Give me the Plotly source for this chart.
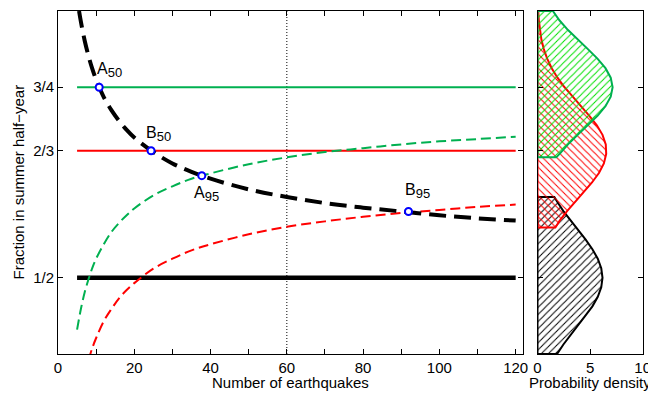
import plotly.graph_objects as go

# ---------------- data ----------------
# black thick dashed threshold curve
n_black = [5.52, 6, 7, 8, 9, 10, 12, 14, 16, 18, 20, 25, 30, 35, 40, 50, 60, 70, 80, 90, 100, 110, 120]
frac_black = [0.850, 0.836, 0.811, 0.791, 0.774, 0.760, 0.737, 0.720, 0.706, 0.694, 0.684, 0.665,
              0.650, 0.639, 0.630, 0.616, 0.606, 0.598, 0.592, 0.587, 0.582, 0.578, 0.575]
# green dashed curve
n_green = [5, 6, 7, 8, 9, 10, 12, 14, 16, 18, 20, 25, 30, 35, 40, 50, 60, 70, 80, 90, 100, 110, 120]
frac_green = [0.432, 0.459, 0.481, 0.498, 0.513, 0.525, 0.544, 0.560, 0.572, 0.582, 0.591, 0.608,
              0.620, 0.630, 0.637, 0.649, 0.658, 0.665, 0.670, 0.675, 0.679, 0.682, 0.685]
# red dashed curve
n_red = [8, 9, 10, 12, 14, 16, 18, 20, 25, 30, 35, 40, 50, 60, 70, 80, 90, 100, 110, 120]
frac_red = [0.392, 0.408, 0.421, 0.443, 0.459, 0.473, 0.484, 0.493, 0.512, 0.525, 0.536, 0.544,
            0.557, 0.567, 0.574, 0.580, 0.585, 0.589, 0.593, 0.596]
# horizontal reference levels
level_x = [5, 120]
level_green = 0.75
level_red = 2 / 3
level_black = 0.5
# vertical dotted line
n_dotted = 60
# labelled points
pt_names = ["A", "B", "A", "B"]
pt_subs = ["50", "50", "95", "95"]
pt_n = [10.8, 24.4, 37.7, 91.9]
pt_frac = [0.75, 0.6667, 0.634, 0.587]

# probability densities (right panel)
dens_black_y = [0.4, 0.4125, 0.425, 0.4375, 0.45, 0.4625, 0.475, 0.4875, 0.5, 0.5125, 0.525, 0.5375,
                0.55, 0.5625, 0.575, 0.5875, 0.6, 0.606]
dens_black = [1.86, 2.46, 3.14, 3.86, 4.58, 5.22, 5.73, 6.06, 6.18, 6.06, 5.73, 5.22, 4.58, 3.86,
              3.14, 2.46, 1.86, 1.60]
dens_red_y = [0.566, 0.575, 0.5875, 0.6, 0.6125, 0.625, 0.6375, 0.65, 0.6625, 0.675, 0.6875, 0.7,
              0.7125, 0.725, 0.7375, 0.75, 0.7625, 0.775, 0.7875, 0.8, 0.8125, 0.825, 0.8375, 0.85]
dens_red = [1.70, 2.11, 2.81, 3.60, 4.41, 5.18, 5.84, 6.31, 6.53, 6.49, 6.18, 5.64, 4.93, 4.14, 3.33,
            2.57, 1.90, 1.35, 0.92, 0.60, 0.37, 0.22, 0.13, 0.07]
dens_green_y = [0.658, 0.6625, 0.675, 0.6875, 0.7, 0.7125, 0.725, 0.7375, 0.75, 0.7625, 0.775,
                0.7875, 0.8, 0.8125, 0.825, 0.8375, 0.85]
dens_green = [1.78, 2.10, 2.90, 3.82, 4.79, 5.70, 6.46, 6.96, 7.14, 6.96, 6.46, 5.70, 4.79, 3.82,
              2.90, 2.10, 1.46]

# tick labels
x_ticks = list(range(0, 121, 10))
x_ticktext = [str(v) if v % 20 == 0 else "" for v in x_ticks]
y_ticks = [0.5, 2 / 3, 0.75]
y_ticktext = ["1/2", "2/3", "3/4"]
dens_ticks = [0, 5, 10]

GREEN = "#00b050"
RED = "#ff0000"
BLUE = "#0000ff"
FONT = "Liberation Sans, Arial, Helvetica, sans-serif"

fig = go.Figure()

# ---------------- left panel ----------------
fig.add_trace(go.Scatter(x=[n_dotted, n_dotted], y=[0.4, 0.85], mode="lines",
                         line=dict(color="black", width=1, dash="1px,2px"), xaxis="x", yaxis="y"))
fig.add_trace(go.Scatter(x=level_x, y=[level_green] * 2, mode="lines",
                         line=dict(color=GREEN, width=2), xaxis="x", yaxis="y"))
fig.add_trace(go.Scatter(x=level_x, y=[level_red] * 2, mode="lines",
                         line=dict(color=RED, width=2), xaxis="x", yaxis="y"))
fig.add_trace(go.Scatter(x=level_x, y=[level_black] * 2, mode="lines",
                         line=dict(color="black", width=4.5), xaxis="x", yaxis="y"))
fig.add_trace(go.Scatter(x=n_green, y=frac_green, mode="lines", line_shape="spline",
                         line=dict(color=GREEN, width=2, dash="10px,5px"), xaxis="x", yaxis="y"))
fig.add_trace(go.Scatter(x=n_red, y=frac_red, mode="lines", line_shape="spline",
                         line=dict(color=RED, width=2, dash="10px,5px"), xaxis="x", yaxis="y"))
fig.add_trace(go.Scatter(x=n_black, y=frac_black, mode="lines", line_shape="spline",
                         line=dict(color="black", width=4, dash="17px,8px"), xaxis="x", yaxis="y"))
fig.add_trace(go.Scatter(x=pt_n, y=pt_frac, mode="markers",
                         marker=dict(symbol="circle", size=7, color="white",
                                     line=dict(color=BLUE, width=2)),
                         xaxis="x", yaxis="y"))

# point labels
label_pos = [  # (xanchor, yanchor, xshift, yshift)
    ("left", "bottom", -4, 5),
    ("left", "bottom", -7, 5),
    ("left", "top", -10, -6),
    ("left", "bottom", -6, 8),
]
for name, sub, xn, yf, (xa, ya, xs, ys) in zip(pt_names, pt_subs, pt_n, pt_frac, label_pos):
    fig.add_annotation(x=xn, y=yf, xref="x", yref="y",
                       text=f"{name}<sub><span style='font-size:13px'>{sub}</span></sub>",
                       showarrow=False,
                       xanchor=xa, yanchor=ya, xshift=xs, yshift=ys,
                       font=dict(family=FONT, size=16, color="black"))

# ---------------- right panel ----------------
def region(dens, ys):
    return [0] + dens + [0, 0], [ys[0]] + ys + [ys[-1], ys[0]]

bx, by = region(dens_black, dens_black_y)
rx, ry = region(dens_red, dens_red_y)
gx, gy = region(dens_green, dens_green_y)

fig.add_trace(go.Scatter(x=bx, y=by, mode="lines", fill="toself",
                         fillcolor="rgba(0,0,0,0)",
                         fillpattern=dict(shape="/", fgcolor="black", bgcolor="rgba(0,0,0,0)",
                                          size=5, solidity=0.2, fgopacity=1),
                         line=dict(color="black", width=2), xaxis="x2", yaxis="y2"))
fig.add_trace(go.Scatter(x=rx, y=ry, mode="lines", fill="toself",
                         fillcolor="rgba(0,0,0,0)",
                         fillpattern=dict(shape="\\", fgcolor=RED, bgcolor="rgba(0,0,0,0)",
                                          size=5, solidity=0.2, fgopacity=1),
                         line=dict(color=RED, width=2), xaxis="x2", yaxis="y2"))
fig.add_trace(go.Scatter(x=gx, y=gy, mode="lines", fill="toself",
                         fillcolor="rgba(0,0,0,0)",
                         fillpattern=dict(shape="/", fgcolor="#00e000", bgcolor="rgba(0,0,0,0)",
                                          size=5, solidity=0.2, fgopacity=1),
                         line=dict(color=GREEN, width=2), xaxis="x2", yaxis="y2"))

W, H = 648, 393
axis_common = dict(showgrid=False, zeroline=False, showline=True, linecolor="black", linewidth=1,
                   mirror="ticks", ticks="inside", ticklen=5, tickcolor="black", tickwidth=1,
                   automargin=False,
                   tickfont=dict(family=FONT, size=15, color="black"))

fig.update_layout(
    width=W, height=H, margin=dict(l=0, r=0, t=0, b=0),
    paper_bgcolor="white", plot_bgcolor="white", showlegend=False,
    font=dict(family=FONT, size=15, color="black"),
    xaxis=dict(domain=[58 / W, 523.3 / W], range=[0, 122], tickmode="array",
               tickvals=x_ticks, ticktext=x_ticktext, anchor="y", **axis_common),
    yaxis=dict(domain=[(H - 354) / H, (H - 11) / H], range=[0.4, 0.85], tickmode="array",
               tickvals=y_ticks, ticktext=y_ticktext, anchor="x", **axis_common),
    xaxis2=dict(domain=[537.5 / W, 642.7 / W], range=[0, 10], tickmode="array",
                tickvals=dens_ticks, anchor="y2", ticklabeloverflow="allow", **axis_common),
    yaxis2=dict(domain=[(H - 354) / H, (H - 11) / H], range=[0.4, 0.85], tickmode="array",
                tickvals=y_ticks, showticklabels=False, anchor="x2", **axis_common),
)

# axis titles
fig.add_annotation(text="Number of earthquakes", xref="paper", yref="paper",
                   x=(58 + 523.3) / 2 / W, y=(H - 382) / H, showarrow=False,
                   xanchor="center", yanchor="middle", font=dict(family=FONT, size=15))
fig.add_annotation(text="Probability density", xref="paper", yref="paper",
                   x=(537.5 + 642.7) / 2 / W, y=(H - 382) / H, showarrow=False,
                   xanchor="center", yanchor="middle", font=dict(family=FONT, size=15))
fig.add_annotation(text="Fraction in summer half\u2212year", xref="paper", yref="paper",
                   x=18 / W, y=(H - 182.5) / H, showarrow=False, textangle=-90,
                   xanchor="center", yanchor="middle", font=dict(family=FONT, size=15))

fig.write_html("out.html", config={"displayModeBar": False},
               post_script="document.body.style.margin='0';")
